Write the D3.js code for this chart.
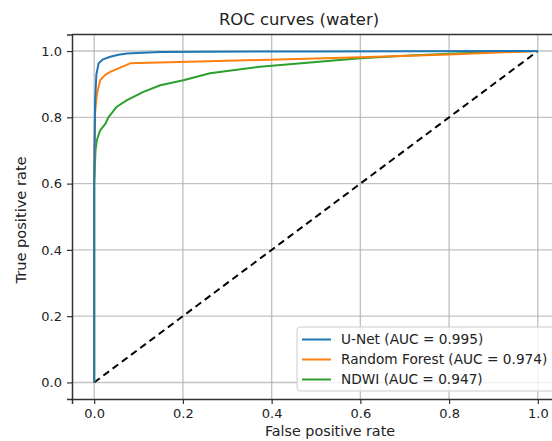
<!DOCTYPE html>
<html>
<head>
<meta charset="utf-8">
<script src="https://cdn.jsdelivr.net/npm/d3@7"></script>
<style>
  body { margin: 0; background: #fff; }
  svg { font-family: "DejaVu Sans", sans-serif; }
</style>
</head>
<body>
<div id="chart"></div>
<script>
var unetFpr = [0, 0, 0.002, 0.005, 0.01, 0.02, 0.036, 0.055, 0.074, 0.11, 0.149, 0.25, 0.5, 1.0],
    unetTpr = [0, 0.6, 0.85, 0.93, 0.963, 0.975, 0.983, 0.989, 0.993, 0.995, 0.997, 0.998, 0.999, 1.0];

var rfFpr = [0, 0, 0.002, 0.006, 0.0135, 0.025, 0.036, 0.081, 0.374, 0.6, 0.8, 1.0],
    rfTpr = [0, 0.6, 0.812, 0.87, 0.912, 0.928, 0.937, 0.963, 0.973, 0.981, 0.99, 1.0];

var ndwiFpr = [0, 0, 0.003, 0.006, 0.0135, 0.025, 0.032, 0.051, 0.074, 0.111, 0.149, 0.201, 0.261, 0.374, 0.5, 0.6, 0.7, 0.8, 0.9, 1.0],
    ndwiTpr = [0, 0.6, 0.7, 0.731, 0.761, 0.78, 0.8, 0.832, 0.852, 0.877, 0.897, 0.912, 0.933, 0.953, 0.967, 0.978, 0.986, 0.992, 0.997, 1.0];

var seriesNames = ['U-Net (AUC = 0.995)', 'Random Forest (AUC = 0.974)', 'NDWI (AUC = 0.947)'],
    seriesColors = ['#1f77b4', '#ff7f0e', '#2ca02c'];

var ticks = [0, 0.2, 0.4, 0.6, 0.8, 1.0];

var width = 552, height = 441,
    margin = {left: 72, right: -8, top: 34.5, bottom: 42};

var svg = d3.select("#chart").append("svg")
    .attr("width", width)
    .attr("height", height);

var x = d3.scaleLinear().domain([-0.05, 1.05]).range([margin.left, width - margin.right]),
    y = d3.scaleLinear().domain([-0.05, 1.05]).range([height - margin.bottom, margin.top]);

// grid
svg.append("g").selectAll(".gx").data(ticks)
    .enter().append("line")
    .attr("x1", function(d) { return x(d); })
    .attr("x2", function(d) { return x(d); })
    .attr("y1", y(-0.05)).attr("y2", y(1.05))
    .style("stroke", "#b0b0b0").style("stroke-width", "1.4px").style("opacity", 0.75);
svg.append("g").selectAll(".gy").data(ticks)
    .enter().append("line")
    .attr("y1", function(d) { return y(d); })
    .attr("y2", function(d) { return y(d); })
    .attr("x1", x(-0.05)).attr("x2", x(1.05))
    .style("stroke", "#b0b0b0").style("stroke-width", "1.4px").style("opacity", 0.75);

// diagonal
svg.append("line")
    .attr("x1", x(0)).attr("y1", y(0))
    .attr("x2", x(1)).attr("y2", y(1))
    .style("stroke", "#000").style("stroke-width", "2px")
    .style("stroke-dasharray", "7,4.5");

var line = d3.line()
    .x(function(d) { return x(d[0]); })
    .y(function(d) { return y(d[1]); });

var curves = [
  d3.zip(unetFpr, unetTpr),
  d3.zip(rfFpr, rfTpr),
  d3.zip(ndwiFpr, ndwiTpr)
];

// draw in reverse so blue ends up on top
[2, 1, 0].forEach(function(i) {
  svg.append("path")
    .datum(curves[i])
    .attr("d", line)
    .style("fill", "none")
    .style("stroke", seriesColors[i])
    .style("stroke-width", "2px")
    .style("stroke-linejoin", "round");
});

// axes
var xAxis = d3.axisBottom(x).tickValues(ticks).tickFormat(d3.format(".1f")).tickSize(5).tickPadding(5),
    yAxis = d3.axisLeft(y).tickValues(ticks).tickFormat(d3.format(".1f")).tickSize(5).tickPadding(5);

var gx = svg.append("g")
    .attr("transform", "translate(0," + y(-0.05) + ")")
    .call(xAxis);
var gy = svg.append("g")
    .attr("transform", "translate(" + x(-0.05) + ",0)")
    .call(yAxis);

[gx, gy].forEach(function(g) {
  g.select(".domain").style("stroke", "#333").style("stroke-width", "1.5px");
  g.selectAll(".tick line").style("stroke", "#333").style("stroke-width", "1.2px");
  g.selectAll(".tick text").style("font-size", "13px").style("fill", "#222")
    .style("font-family", "DejaVu Sans, sans-serif");
});

// top spine
svg.append("line")
    .attr("x1", x(-0.05)).attr("x2", x(1.05))
    .attr("y1", y(1.05)).attr("y2", y(1.05))
    .style("stroke", "#333").style("stroke-width", "1.5px");

// labels
svg.append("text")
    .attr("x", 299)
    .attr("y", 25)
    .attr("text-anchor", "middle")
    .style("font-size", "16.4px").style("fill", "#222")
    .text("ROC curves (water)");

svg.append("text")
    .attr("x", 330)
    .attr("y", 436)
    .attr("text-anchor", "middle")
    .style("font-size", "14.3px").style("fill", "#222")
    .text("False positive rate");

svg.append("text")
    .attr("transform", "translate(25.5,220) rotate(-90)")
    .attr("text-anchor", "middle")
    .style("font-size", "14.6px").style("fill", "#222")
    .text("True positive rate");

// legend
var legend = svg.append("g").attr("transform", "translate(297,327)");
legend.append("rect")
    .attr("width", 270).attr("height", 64).attr("rx", 3)
    .style("fill", "#fff").style("fill-opacity", 0.8)
    .style("stroke", "#ccc").style("stroke-width", "1px");
legend.selectAll(".entry").data(seriesNames)
    .enter().append("g")
    .attr("class", "entry")
    .each(function(d, i) {
      var g = d3.select(this);
      g.append("line")
        .attr("x1", 5).attr("x2", 34)
        .attr("y1", 12.5 + i * 20).attr("y2", 12.5 + i * 20)
        .style("stroke", seriesColors[i]).style("stroke-width", "2px");
      g.append("text")
        .attr("x", 44).attr("y", 12.5 + i * 20)
        .attr("dy", "0.35em")
        .style("font-size", "13.7px").style("fill", "#222")
        .text(d);
    });
</script>
</body>
</html>
